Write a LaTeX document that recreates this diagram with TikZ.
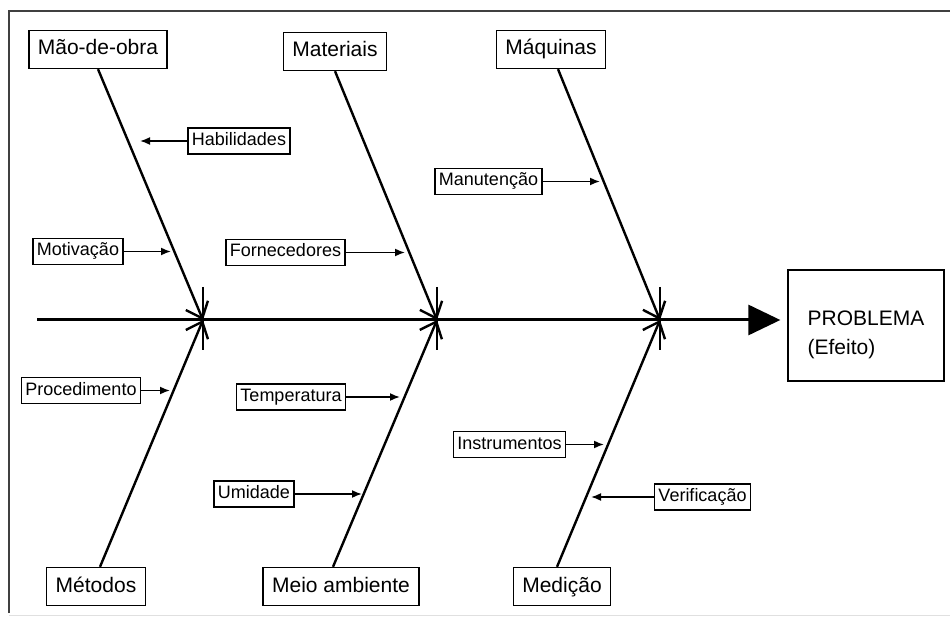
\documentclass[tikz,border=0pt]{standalone}
\usepackage{fontspec}
\setmainfont{Liberation Sans}
\usetikzlibrary{arrows.meta}

\tikzset{
  causa/.style={draw, line width=1.3pt, font=\fontsize{21}{24}\selectfont,
    minimum height=38pt, inner xsep=9pt, text height=15pt, text depth=4pt},
  subcausa/.style={draw, line width=1.1pt, font=\fontsize{18}{20}\selectfont,
    minimum height=26pt, inner xsep=4pt, text height=13pt, text depth=4pt},
  espinha/.style={line width=2.4pt, -{Straight Barb[length=14pt,width=24pt]}},
  seta/.style={line width=1.7pt, -{Latex[length=10pt,width=8pt]}},
}

\begin{document}
\begin{tikzpicture}[x=1pt,y=-1pt]
\useasboundingbox (0,0) rectangle (950,617);
% moldura
\draw[line width=2pt, black!75] (9,613) -- (9,11) -- (950,11);
\draw[line width=1pt, black!12] (9,615) -- (950,615);

% efeito
\node[draw, line width=1.3pt, minimum width=156pt, minimum height=111pt,
  align=left, font=\fontsize{21}{29}\selectfont] (problema) at (866,325.5)
  {\rule{0pt}{34pt}PROBLEMA\\(Efeito)};

% espinha central
\coordinate (cauda) at (37,320);
\coordinate (j1) at (203,320);
\coordinate (j2) at (437,320);
\coordinate (j3) at (660,320);
\draw[line width=3pt, -{Triangle[length=32pt,width=30pt]}, shorten >=7pt]
  (cauda) -- (cauda -| problema.west);
\foreach \j in {j1,j2,j3}
  \draw[line width=2.4pt] ([yshift=33pt]\j) -- ([yshift=-30pt]\j);

% causas principais
\node[causa] (maoobra)  at (98,49.5)   {Mão-de-obra};
\node[causa] (materiais) at (335,51.5) {Materiais};
\node[causa] (maquinas) at (551,49.5)  {Máquinas};
\node[causa] (metodos)  at (96,586.5)  {Métodos};
\node[causa] (meio)     at (341,586.5) {Meio ambiente};
\node[causa] (medicao)  at (562,586.5) {Medição};

\draw[espinha] (maoobra.south) -- (j1);
\draw[espinha] (materiais.south) -- (j2);
\draw[espinha] ([xshift=7pt]maquinas.south) -- (j3);
\draw[espinha] ([xshift=4pt]metodos.north) -- (j1);
\draw[espinha] ([xshift=-8pt]meio.north) -- (j2);
\draw[espinha] ([xshift=-5pt]medicao.north) -- (j3);

% sub-causas
\node[subcausa] (habilidades)  at (239,141)   {Habilidades};
\node[subcausa] (motivacao)    at (78,251.5)  {Motivação};
\node[subcausa] (fornecedores) at (285.5,252.5) {Fornecedores};
\node[subcausa] (manutencao)   at (488.5,181.5) {Manutenção};
\node[subcausa] (procedimento) at (81,390.5)  {Procedimento};
\node[subcausa] (temperatura)  at (291,397)   {Temperatura};
\node[subcausa] (umidade)      at (254,494)   {Umidade};
\node[subcausa] (instrumentos) at (509.5,444.5) {Instrumentos};
\node[subcausa] (verificacao)  at (702.5,497) {Verificação};

\coordinate (hab) at (140,141);
\coordinate (mot) at (171,251.5);
\coordinate (for) at (405,252.5);
\coordinate (man) at (600,181.5);
\coordinate (pro) at (170,390.5);
\coordinate (tem) at (400,397);
\coordinate (umi) at (362,494);
\coordinate (ins) at (604,444.5);
\coordinate (ver) at (591,497);

\draw[seta] (habilidades) -- (hab);
\draw[seta] (motivacao) -- (mot);
\draw[seta] (fornecedores) -- (for);
\draw[seta] (manutencao) -- (man);
\draw[seta] (procedimento) -- (pro);
\draw[seta] (temperatura) -- (tem);
\draw[seta] (umidade) -- (umi);
\draw[seta] (instrumentos) -- (ins);
\draw[seta] (verificacao) -- (ver);
\end{tikzpicture}
\end{document}
